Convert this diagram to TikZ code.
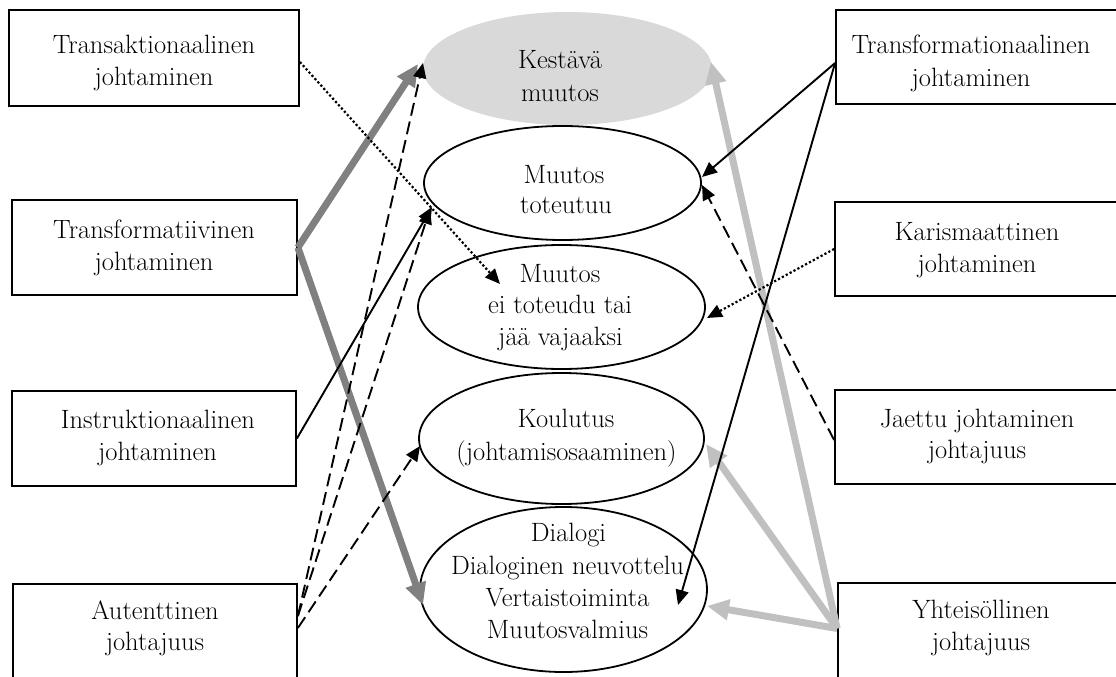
\documentclass[tikz,border=0pt]{standalone}
\usetikzlibrary{shapes.geometric,arrows.meta,calc}
\definecolor{fillgray}{HTML}{D9D9D9}
\definecolor{darkline}{HTML}{808080}
\definecolor{lightline}{HTML}{C0C0C0}
\begin{document}
\begin{tikzpicture}[x=1pt,y=-1pt,
  box/.style={draw,rectangle,line width=1.8pt,inner sep=0pt},
  ell/.style={draw,ellipse,line width=1.8pt,inner sep=0pt},
  lbl/.style={anchor=base,inner sep=0pt,font=\fontsize{26.5}{32}\selectfont},
  solidarrow/.style={line width=1.9pt,-{Triangle[length=15pt,width=13pt]}},
  dasharrow/.style={line width=1.9pt,dash pattern=on 13pt off 6pt,-{Triangle[length=15pt,width=13pt]}},
  dotline/.style={line width=2.2pt,dash pattern=on 2.2pt off 2.2pt,-{Triangle[length=15pt,width=13pt]}},
  darkarrow/.style={line width=7pt,draw=darkline,-{Triangle[length=22pt,width=20pt,fill=darkline]}},
  lightarrow/.style={line width=7pt,draw=lightline,-{Triangle[length=22pt,width=20pt,fill=lightline]}}]
\useasboundingbox (0,0) rectangle (1116,677);
\clip (0,0) rectangle (1116,677);

% left column of leadership styles
\node[box,minimum width=290pt,minimum height=96pt] (tka) at (154,58) {};
\node[box,minimum width=285pt,minimum height=95pt] (tfv) at (154.5,247.5) {};
\node[box,minimum width=284pt,minimum height=95pt] (ins) at (154,438.5) {};
\node[box,minimum width=284pt,minimum height=96pt] (aut) at (155,632) {};

% right column of leadership styles
\node[box,minimum width=282pt,minimum height=94pt] (tfn) at (977,57) {};
\node[box,minimum width=283pt,minimum height=94pt] (kar) at (976.5,249) {};
\node[box,minimum width=283pt,minimum height=94pt] (jae) at (976.5,437) {};
\node[box,minimum width=282pt,minimum height=97pt] (yht) at (979,631.5) {};

% outcomes in the middle
\node[ellipse,fill=fillgray,inner sep=0pt,minimum width=289pt,minimum height=113pt] (kes) at (567.5,68.5) {};
\node[ell,minimum width=277pt,minimum height=114pt] (tot) at (562.5,183) {};
\node[ell,minimum width=287pt,minimum height=124pt] (eit) at (561.5,307) {};
\node[ell,minimum width=285pt,minimum height=131pt] (kou) at (561.5,438.5) {};
\node[ell,minimum width=287pt,minimum height=165pt] (dia) at (563.5,589.5) {};

% connectors
\draw[darkarrow] (tfv.east) -- ($(kes.center)+(-149.5,-4.5)$);
\draw[darkarrow] (tfv.east) -- ($(dia.center)+(-140.5,15.5)$);
\draw[lightarrow] ($(yht.west)+(0,-3)$) -- ($(kes.center)+(143.5,-6.5)$);
\draw[lightarrow] ($(yht.west)+(0,-3)$) -- ($(kou.center)+(144.5,5.5)$);
\draw[lightarrow] ($(yht.west)+(0,-3)$) -- ($(dia.center)+(143.5,16.5)$);
\draw[dotline] ($(tka.east)+(0,4)$) -- ($(eit.center)+(-61.5,-23)$);
\draw[solidarrow] (ins.east) -- ($(tot.center)+(-130.5,24)$);
\draw[dasharrow] ($(aut.east)+(0,-16)$) -- ($(kes.center)+(-144.5,-5.5)$);
\draw[dasharrow] ($(aut.east)+(0,-16)$) -- ($(tot.center)+(-132.5,26)$);
\draw[dasharrow] ($(aut.east)+(0,-4)$) -- ($(kou.center)+(-141.5,7.5)$);
\draw[solidarrow] ($(tfn.west)+(0,6)$) -- ($(tot.center)+(139.5,-6)$);
\draw[solidarrow] ($(tfn.west)+(0,6)$) -- ($(dia.center)+(114.5,15.5)$);
\draw[dotline] (kar.west) -- ($(eit.center)+(145.5,11)$);
\draw[dasharrow] ($(jae.west)+(0,3)$) -- ($(tot.center)+(139.5,2)$);

% box texts
\node[lbl] (tka1) at (154,53) {Transaktionaalinen};
\node[lbl] (tka2) at (154,85) {johtaminen};
\node[lbl] (tfv1) at (154,238) {Transformatiivinen};
\node[lbl] (tfv2) at (154,270) {johtaminen};
\node[lbl] (ins1) at (158,428) {Instruktionaalinen};
\node[lbl] (ins2) at (157.5,460) {johtaminen};
\node[lbl] (aut1) at (155,619) {Autenttinen};
\node[lbl] (aut2) at (155,650) {johtajuus};
\node[lbl] (tfn1) at (971,53) {Transformationaalinen};
\node[lbl] (tfn2) at (971,86) {johtaminen};
\node[lbl] (kar1) at (977,240) {Karismaattinen};
\node[lbl] (kar2) at (977,272) {johtaminen};
\node[lbl] (jae1) at (977,427) {Jaettu johtaminen};
\node[lbl] (jae2) at (977,458) {johtajuus};
\node[lbl] (yht1) at (981,618) {Yhteisöllinen};
\node[lbl] (yht2) at (981,650) {johtajuus};

% ellipse texts
\node[lbl] (kes1) at (560,68) {Kestävä};
\node[lbl] (kes2) at (560,101) {muutos};
\node[lbl] (tot1) at (564,183) {Muutos};
\node[lbl] (tot2) at (566,213) {toteutuu};
\node[lbl] (eit1) at (560,282) {Muutos};
\node[lbl] (eit2) at (560,313) {ei toteudu tai};
\node[lbl] (eit3) at (560.5,345) {jää vajaaksi};
\node[lbl] (kou1) at (566,427) {Koulutus};
\node[lbl] (kou2) at (566.5,460) {(johtamisosaaminen)};
\node[lbl] (dia1) at (568.5,541) {Dialogi};
\node[lbl] (dia2) at (567.5,574) {Dialoginen neuvottelu};
\node[lbl] (dia3) at (567.5,606) {Vertaistoiminta};
\node[lbl] (dia4) at (567.5,638) {Muutosvalmius};
\end{tikzpicture}
\end{document}
